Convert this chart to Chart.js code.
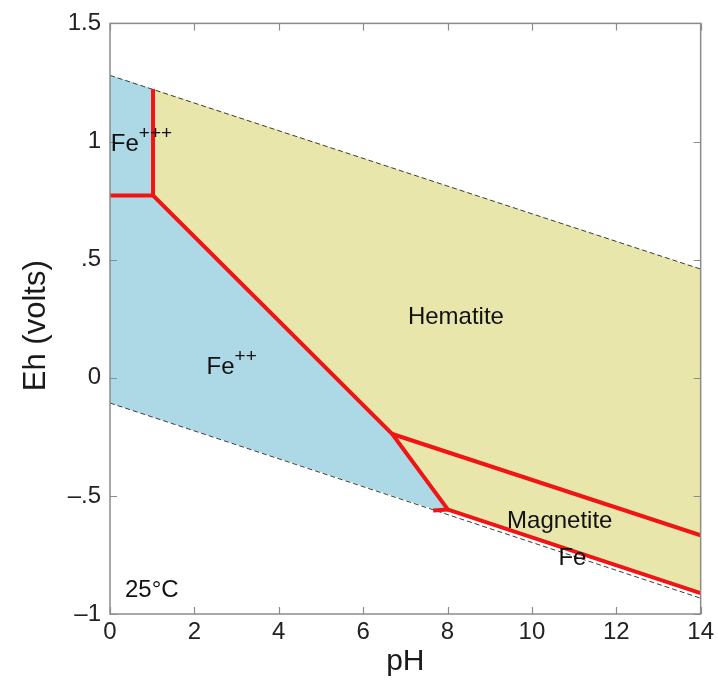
<!DOCTYPE html>
<html>
<head>
<meta charset="utf-8">
<title>Eh–pH diagram for iron</title>
<script src="https://cdn.jsdelivr.net/npm/chart.js@4/dist/chart.umd.min.js"></script>
<style>
  html, body { margin: 0; padding: 0; background: #fff; }
  #wrap { width: 718px; height: 680px; }
</style>
</head>
<body>
<div id="wrap"><canvas id="c" width="718" height="680"></canvas></div>
<script>
// Eh–pH stability fields of iron at 25°C (pH, Eh in volts)

const xTickValues = [0, 2, 4, 6, 8, 10, 12, 14];
const xTickLabels = ['0', '2', '4', '6', '8', '10', '12', '14'];
const yTickValues = [-1, -0.5, 0, 0.5, 1, 1.5];
const yTickLabels = ['\u20131', '\u2013.5', '0', '.5', '1', '1.5'];

// stability limits of water
const waterUpper = [[0, 1.28], [14, 0.46]];
const waterLower = [[0, -0.107], [14, -0.933]];

// field boundaries
const ferricFerrous = [[0, 0.772], [1.02, 0.772]];
const oxideBoundary = [[1.02, 1.222], [1.02, 0.772], [6.69, -0.238], [8.01, -0.558], [14, -0.912]];
const hematiteMagnetite = [[6.69, -0.238], [14, -0.667]];
const magnetiteStub = [[7.66, -0.562], [8.01, -0.558]];

// fields
const aqueousField = [[0, 1.28], [1.02, 1.222], [1.02, 0.772], [6.69, -0.238], [8.01, -0.558], [7.66, -0.556], [0, -0.107]];
const oxideField = [[1.02, 1.222], [14, 0.46], [14, -0.912], [8.01, -0.558], [6.69, -0.238], [1.02, 0.772]];

// field names
const fieldLabels = [
  { text: 'Fe', sup: '+++', pH: 0.02, Eh: 0.961, align: 'left' },
  { text: 'Fe', sup: '++', pH: 2.29, Eh: 0.014, align: 'left' },
  { text: 'Hematite', pH: 8.2, Eh: 0.229, align: 'center' },
  { text: 'Magnetite', pH: 10.66, Eh: -0.638, align: 'center' },
  { text: 'Fe', pH: 10.96, Eh: -0.794, align: 'center' },
  { text: '25°C', pH: 0.355, Eh: -0.928, align: 'left' }
];

const FONT = '"Liberation Sans", Arial, Helvetica, sans-serif';
const BLUE = '#add8e6';
const KHAKI = '#e8e6ab';
const RED = '#f01414';
const FRAME = '#8c8c8c';

const pts = arr => arr.map(([x, y]) => ({ x, y }));

function area(data, color, order) {
  return { data: pts(data), backgroundColor: color, borderWidth: 0, pointRadius: 0, fill: 'shape', order };
}
function dashed(data) {
  return { data: pts(data), borderColor: '#3c3c3c', borderWidth: 1, borderDash: [5, 3], pointRadius: 0, fill: false, order: 2 };
}
function boundary(data) {
  return { data: pts(data), borderColor: RED, borderWidth: 4, borderJoinStyle: 'miter', pointRadius: 0, fill: false, order: 1 };
}

// frame with inward tick marks, field names and the Eh axis title
const framePlugin = {
  id: 'frame',
  afterDatasetsDraw(chart) {
    const { ctx, chartArea: a, scales: { x, y } } = chart;
    ctx.save();
    ctx.strokeStyle = FRAME;
    ctx.lineWidth = 1.5;
    ctx.strokeRect(a.left, a.top, a.right - a.left, a.bottom - a.top);
    ctx.lineWidth = 1.2;
    ctx.beginPath();
    const len = 7;
    x.ticks.forEach(t => {
      const px = Math.round(x.getPixelForValue(t.value)) + 0.5;
      ctx.moveTo(px, a.bottom); ctx.lineTo(px, a.bottom - len);
      ctx.moveTo(px, a.top); ctx.lineTo(px, a.top + len);
    });
    y.ticks.forEach(t => {
      const py = Math.round(y.getPixelForValue(t.value)) + 0.5;
      ctx.moveTo(a.left, py); ctx.lineTo(a.left + len, py);
      ctx.moveTo(a.right, py); ctx.lineTo(a.right - len, py);
    });
    ctx.stroke();

    ctx.fillStyle = '#111';
    ctx.textBaseline = 'alphabetic';
    fieldLabels.forEach(l => {
      const px = x.getPixelForValue(l.pH);
      const py = y.getPixelForValue(l.Eh);
      ctx.font = '24px ' + FONT;
      ctx.textAlign = l.align;
      ctx.fillText(l.text, px, py);
      if (l.sup) {
        const w = ctx.measureText(l.text).width;
        const sx = l.align === 'left' ? px + w : px + w / 2;
        ctx.font = '19px ' + FONT;
        ctx.textAlign = 'left';
        ctx.fillText(l.sup, sx, py - 12);
      }
    });

    ctx.translate(36, (a.top + a.bottom) / 2 + 7);
    ctx.rotate(-Math.PI / 2);
    ctx.font = '31px ' + FONT;
    ctx.textAlign = 'center';
    ctx.textBaseline = 'middle';
    ctx.fillStyle = '#1a1a1a';
    ctx.fillText('Eh (volts)', 0, 0);
    ctx.restore();
  }
};

new Chart(document.getElementById('c'), {
  type: 'line',
  data: {
    datasets: [
      area(aqueousField, BLUE, 4),
      area(oxideField, KHAKI, 3),
      dashed(waterUpper),
      dashed(waterLower),
      boundary(ferricFerrous),
      boundary(oxideBoundary),
      boundary(hematiteMagnetite),
      boundary(magnetiteStub)
    ]
  },
  options: {
    responsive: false,
    animation: false,
    events: [],
    layout: { padding: { top: 20, right: 16, left: 0, bottom: 0 } },
    plugins: { legend: { display: false }, tooltip: { enabled: false } },
    scales: {
      x: {
        type: 'linear',
        min: 0, max: 14,
        afterBuildTicks: s => { s.ticks = xTickValues.map(v => ({ value: v })); },
        afterFit: s => { s.height = 66; },
        grid: { display: false, drawTicks: false, tickLength: 0 },
        border: { display: false },
        ticks: {
          padding: 4,
          color: '#222',
          font: { family: FONT, size: 24 },
          maxRotation: 0,
          callback: (v, i) => xTickLabels[i]
        },
        title: {
          display: true,
          text: 'pH',
          color: '#1a1a1a',
          font: { family: FONT, size: 30 },
          padding: { top: 0, bottom: 0 }
        }
      },
      y: {
        type: 'linear',
        min: -1, max: 1.5,
        afterBuildTicks: s => { s.ticks = yTickValues.map(v => ({ value: v })); },
        afterFit: s => { s.width = 110; },
        grid: { display: false, drawTicks: false, tickLength: 0 },
        border: { display: false },
        ticks: {
          padding: 9,
          color: '#222',
          font: { family: FONT, size: 24 },
          callback: (v, i) => yTickLabels[i]
        }
      }
    }
  },
  plugins: [framePlugin]
});
</script>
</body>
</html>
